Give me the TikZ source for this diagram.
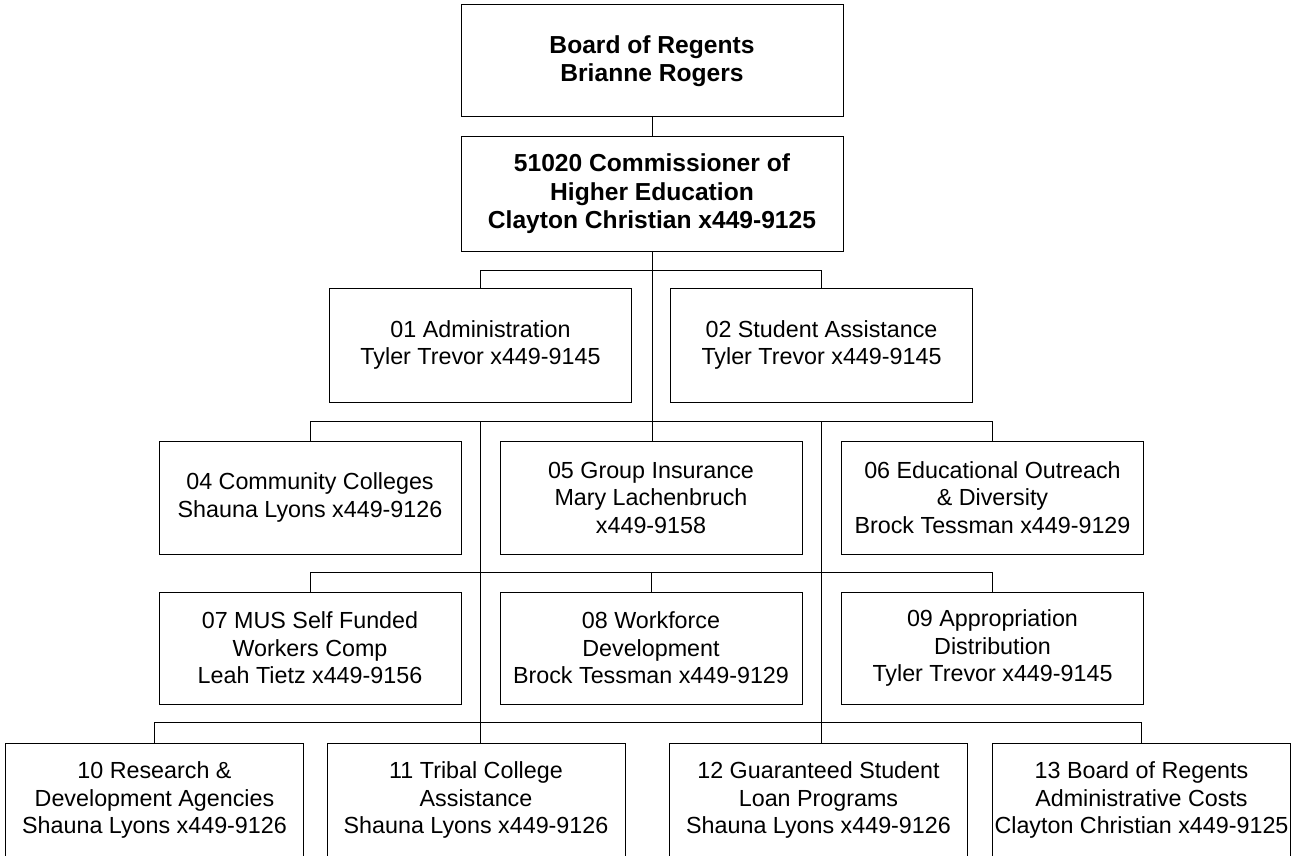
\documentclass[tikz,border=0pt]{standalone}
\usepackage{fontspec}
\setmainfont{Liberation Sans}
\usetikzlibrary{positioning}

\tikzset{
    unit/.style={draw, line width=1pt, inner sep=0pt, align=center,
        minimum width=302pt, minimum height=113pt,
        font=\fontsize{23.3}{27.5}\selectfont},
    head/.style={unit, minimum width=382pt,
        font=\fontsize{24.6}{28.5}\selectfont\bfseries},
    link/.style={line width=1pt}
}

\begin{document}
\begin{tikzpicture}[x=1pt, y=-1pt]
    \useasboundingbox (0,0) rectangle (1299,856);

    % Topo
    \node[head, minimum height=112pt] (bor) at (652,61) {Board of Regents\\Brianne Rogers};
    \node[head, minimum height=114pt] (coh) at (652,194) {51020 Commissioner of\\Higher Education\\Clayton Christian x449-9125};

    % Linha 1
    \foreach \n/\x/\t in {a01/480.5/{01 Administration\\Tyler Trevor x449-9145},
                          s02/821.5/{02 Student Assistance\\Tyler Trevor x449-9145}}
        \node[unit, minimum height=114pt] (\n) at (\x,345) {\t};

    % Linha 2
    \foreach \n/\x/\t in {c04/310/{04 Community Colleges\\Shauna Lyons x449-9126},
                          g05/651/{05 Group Insurance\\Mary Lachenbruch\\x449-9158},
                          e06/992.5/{06 Educational Outreach\\\& Diversity\\Brock Tessman x449-9129}}
        \node[unit] (\n) at (\x,497.5) {\t};

    % Linha 3
    \foreach \n/\x/\t in {m07/310/{07 MUS Self Funded\\Workers Comp\\Leah Tietz x449-9156},
                          w08/651/{08 Workforce\\Development\\Brock Tessman x449-9129},
                          d09/992.5/{09 Appropriation\\Distribution\\Tyler Trevor x449-9145}}
        \node[unit, minimum height=112pt] (\n) at (\x,648) {\t};

    % Linha 4 (cortada em baixo)
    \foreach \n/\x/\t in {r10/154.5/{10 Research \&\\Development Agencies\\Shauna Lyons x449-9126},
                          t11/476/{11 Tribal College\\Assistance\\Shauna Lyons x449-9126},
                          l12/818.5/{12 Guaranteed Student\\Loan Programs\\Shauna Lyons x449-9126},
                          b13/1141.5/{13 Board of Regents\\Administrative Costs\\Clayton Christian x449-9125}}
        \node[unit, minimum width=298pt, minimum height=114pt] (\n) at (\x,800) {\t};

    % Ligacoes
    \draw[link] (bor) -- (coh);
    \draw[link] (coh.south) -- (coh.south |- g05.north);
    \draw[link] (a01.north) -- ++(0,-17) -| (s02.north);
    \draw[link] (c04.north) -- ++(0,-19) coordinate (b2) -| (e06.north);
    \draw[link] (a01.south |- b2) -- (a01.south |- t11.north);
    \draw[link] (s02.south |- b2) -- (s02.south |- l12.north);
    \draw[link] (m07.north) -- ++(0,-19) -| (d09.north);
    \draw[link] (w08.north) -- ++(0,-19);
    \draw[link] (r10.north) -- ++(0,-20) -| (b13.north);
\end{tikzpicture}
\end{document}
